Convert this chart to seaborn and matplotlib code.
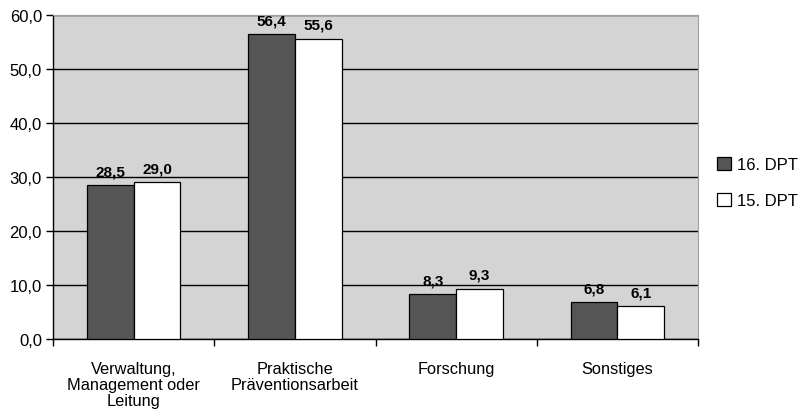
import pandas as pd
import matplotlib
matplotlib.use('Agg')
import matplotlib.pyplot as plt
import seaborn as sns
from matplotlib.ticker import FuncFormatter, FixedLocator

categories = ['Verwaltung,\nManagement oder\nLeitung', 'Praktische\nPräventionsarbeit', 'Forschung', 'Sonstiges']
series = ['16. DPT', '15. DPT']
vals_16 = [28.5, 56.4, 8.3, 6.8]
vals_15 = [29.0, 55.6, 9.3, 6.1]
colors = ['#555555', '#ffffff']

sns.set_style('white')
plt.rcParams['font.family'] = ['Liberation Sans', 'DejaVu Sans']
plt.rcParams['text.color'] = 'black'
plt.rcParams['xtick.color'] = 'black'
plt.rcParams['ytick.color'] = 'black'

df = pd.DataFrame({
    'cat': categories * 2,
    'serie': [series[0]] * 4 + [series[1]] * 4,
    'val': vals_16 + vals_15,
})

fig = plt.figure(figsize=(8.06, 4.14), dpi=100)
ax = fig.add_axes([0.0658, 0.1787, 0.8002, 0.7827])
ax.set_facecolor('#d4d4d4')

sns.barplot(data=df, x='cat', y='val', hue='serie', palette=colors, width=0.58,
            edgecolor='black', linewidth=0.9, saturation=1, ax=ax, zorder=3, legend=True)

ax.set_ylim(0, 60)
ax.set_xlim(-0.5, 3.5)
ax.set_yticks(range(0, 61, 10))
ax.yaxis.set_major_formatter(FuncFormatter(lambda v, p: f'{v:.1f}'.replace('.', ',')))
ax.grid(axis='y', color='black', linewidth=1.0, zorder=0)
ax.set_axisbelow(True)
ax.set_xlabel('')
ax.set_ylabel('')

for spine in ['top', 'right']:
    ax.spines[spine].set_color('#a0a0a0')
    ax.spines[spine].set_linewidth(0.8)
for spine in ['left', 'bottom']:
    ax.spines[spine].set_color('black')
    ax.spines[spine].set_linewidth(1.0)

ax.tick_params(axis='y', left=True, length=5, width=1, labelsize=12, pad=3)
ax.tick_params(axis='x', bottom=False, labelsize=11.8, pad=12)
for lbl in ax.get_xticklabels():
    lbl.set_linespacing(1.12)
ax.xaxis.set_minor_locator(FixedLocator([-0.5, 0.5, 1.5, 2.5, 3.5]))
ax.tick_params(axis='x', which='minor', bottom=True, length=5, width=1)

for cont in ax.containers:
    ax.bar_label(cont, labels=[f'{v:.1f}'.replace('.', ',') for v in cont.datavalues],
                 padding=5, fontsize=11, fontweight='bold', color='black')

handles, labels = ax.get_legend_handles_labels()
ax.get_legend().remove()
fig.legend(handles, labels, loc='center left', bbox_to_anchor=(0.889, 0.557), frameon=False,
           fontsize=12, handlelength=0.85, handleheight=0.85, handletextpad=0.35,
           labelspacing=1.25, borderaxespad=0, borderpad=0)

fig.savefig('out.png', dpi=100)
